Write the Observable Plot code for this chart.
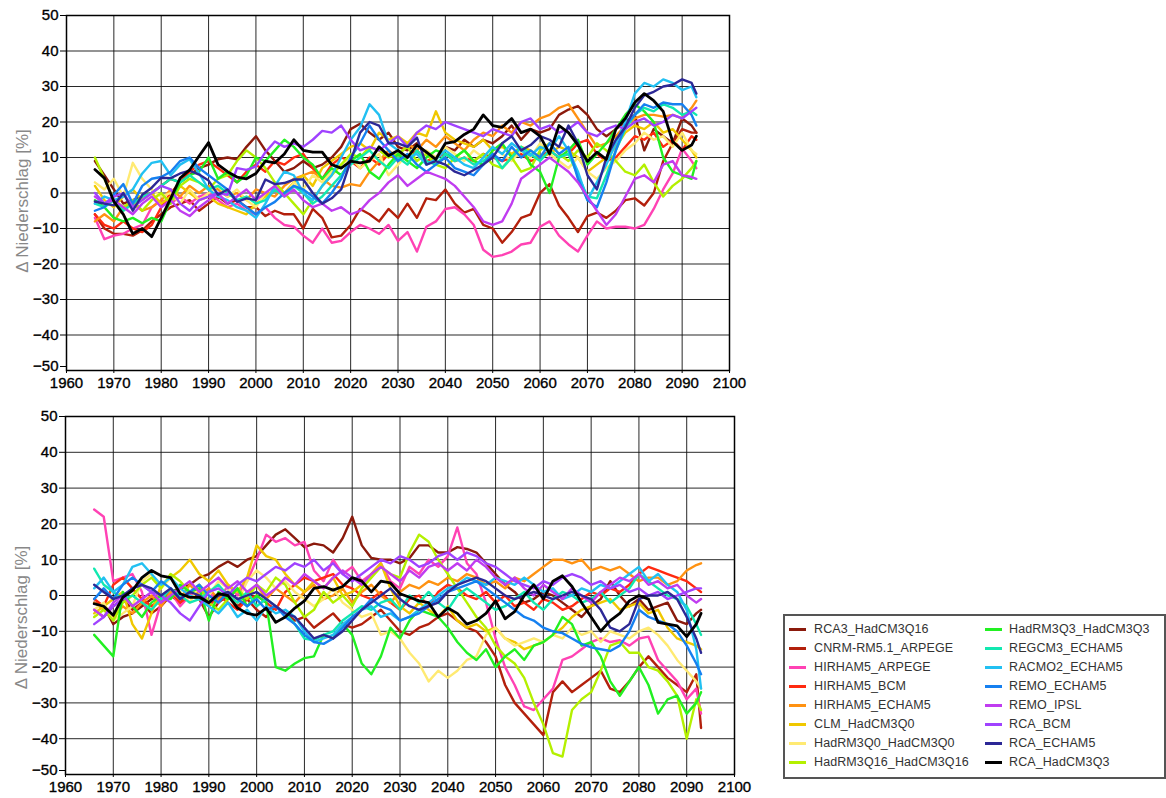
<!DOCTYPE html>
<html>
<head>
<meta charset="utf-8">
<script src="https://cdn.jsdelivr.net/npm/d3@7"></script>
<script src="https://cdn.jsdelivr.net/npm/@observablehq/plot@0.6"></script>
<style>
  html, body { margin: 0; padding: 0; background: #fff; }
  #page { position: relative; width: 1166px; height: 798px; overflow: hidden; background: #fff; font-family: 'Liberation Sans', Arial, sans-serif; }
  .panel { position: absolute; left: 0; }
  g[aria-label$="tick label"] text { stroke: #000; stroke-width: 0.35px; }
  #legend { position: absolute; left: 783px; top: 614px; width: 383px; height: 165px; box-sizing: border-box; border: 2px solid #555; background: #fff; }
  .lg-line { position: absolute; width: 17px; height: 2.5px; }
  .lg-text { position: absolute; font-size: 12.5px; color: #333; line-height: 14px; white-space: nowrap; letter-spacing: 0.1px; }
</style>
</head>
<body>
<div id="page">
  <div id="top" class="panel" style="top:0px"></div>
  <div id="bottom" class="panel" style="top:400px"></div>
  <div id="legend"></div>
</div>
<script>
// ---------- categories ----------
const models = ["RCA3_HadCM3Q16","CNRM-RM5.1_ARPEGE","HIRHAM5_ARPEGE","HIRHAM5_BCM","HIRHAM5_ECHAM5","CLM_HadCM3Q0","HadRM3Q0_HadCM3Q0","HadRM3Q16_HadCM3Q16","HadRM3Q3_HadCM3Q3","REGCM3_ECHAM5","RACMO2_ECHAM5","REMO_ECHAM5","REMO_IPSL","RCA_BCM","RCA_ECHAM5","RCA_HadCM3Q3"];
const colors = ["#8b1a0c","#b3200c","#ff42b4","#ff2a10","#ff9212","#f0c800","#ffea72","#b4f000","#22f022","#12e8b0","#22c0f2","#1680f0","#c03cf0","#a042ff","#2c2896","#000000"];
const years = [...d3.range(1966, 2093, 2), 2093];
const yearTicks = [1960,1970,1980,1990,2000,2010,2020,2030,2040,2050,2060,2070,2080,2090,2100];
const valueTicks = [-50,-40,-30,-20,-10,0,10,20,30,40,50];
const yLabel = "Δ Niederschlag [%]";

// ---------- top panel series (1966,1968,...,2092,2093) ----------
const top_RCA3_HadCM3Q16 = [9,5,1,-3,-2,-1,0,2,4,3, 5,7,8,9.5,10,9.5,13,16,12,9, 6,7,9,7,8,10,13,18,19.5,17, 15,17,13,12,14,11,10,13,12,15, 13,15,14,16,19,15,18,17,18,22, 23.5,24.5,22,18,16,18,20,22,12,18, 16,14,21,19,17];
const top_CNRM_ARPEGE = [-6,-10,-11.5,-11.5,-12,-10.5,-8,-6,-4,-3, -2,-5,-3,-1,-3,-2,-4,-4,-6.5,-5, -6,-6,-10,-4.5,-7,-12.5,-12,-9,-4.5,-6, -8,-4.5,-7,-3,-7,-1.5,-2,1,-3,-5.5, -4.5,-9,-10,-14,-11,-7,-6,0,2.5,-3.5, -7,-11,-6.5,-5.5,-7,-5,-2,-1.5,-3.5,0, 9,14,18,17,17];
const top_HIRHAM5_ARPEGE = [-7,-13,-12,-11.5,-10,-9,-4,-2,-3,-1, -3,-1,0,-2,-4,-3,-5,-6,-4,-7, -9,-9.5,-12,-14,-10,-14,-13.5,-11,-9,-10, -11.5,-9,-13.5,-11,-16.5,-9.5,-8,-4.5,-4,-6, -9,-16,-18,-17.5,-16.5,-14.5,-14,-9.5,-8,-12, -14.5,-16.5,-12,-8,-10,-9.5,-9.5,-10,-9,-4.5, 1,5.5,12.5,9,7];
const top_HIRHAM5_BCM = [-6,-9,-10,-8,-10,-11,-9,-4,0,3, 6,8,9,7,5,3,6,8,6,9, 8,10,11,7,4,8,10,9,7,10, 8,11,9,10,12,9,10,11,9,10, 9,11,10,9,10,11,9,10,12,10, 11,14,15,11,9,10,13,16,15,17, 13,15,12,16,15];
const top_HIRHAM5_ECHAM5 = [-8,-6,-8,-4,-3,-5,-4,-2,1,-1, 2,0,2,1,-1,0,-2,1,0,-1, 2,4,5,6,4,2,1.5,2.5,2,6, 9,12,10,14,12,15,13,16,14,12, 15,17,16,19,17,20,19,21,22,24, 25,21,17,13,14,16,19,21,22,22, 21.5,22,21,24,26];
const top_CLM_HadCM3Q0 = [2,-2,-4,-1,1,-2,0,-3,-1,2, 0,-2,-1,-3,-4,-5,-6,-3,-1,1, 0,3,5,2,7,9,11,13,14,12, 17,15,16,14,17,16,23,17,15,14, 13,15,12,13,11,13,12,10,11,13, 12,10,6,8,10,13,17,19,18,20, 17,18,15,12,10];
const top_HadRM3Q0 = [3,1,4,-1,8.5,4,1,-1,0,-3, 1,-2,0,2,-1,1,-2,-4,0,2, -1,3,1,5,3,6,8,10,7,9, 11,5,8,11,9,12,10,13,11,9, 12,10,13,11,9,12,10,14,11,9, 7,10,6,4,7,9,12,14,17,15, 16,13,17,12,11];
const top_HadRM3Q16 = [10,4,-2,-4,-2,-5,-2,0,-3,2, 4,3,1,4,5,9,12,10,7,3, 0,-3,-6,-2,2,5,8,11,10,13, 12,10,11,13,9,11,8,7,10,12, 9,11,8,7,10,6,7,12,14,11, 9,12,10,14,12,9,6,5,8,3, -1,2,4,7,9];
const top_HadRM3Q3 = [-2,-4,-7,-8,-7,-8.5,-7,-8,-2,3, 5,6,10,4,6,3,5,10,9,12, 15,13,10,8,4,7,5,9,11,6, 4,8,11,9,7,10,12,11,10,12, 9,8,12,14,10,13,8,6,0,10, 12,15,8,11,14,18,22,25,23,20, 10,6,5,4,9];
const top_REGCM3_ECHAM5 = [-3,-4,-2,-5,-3,-1,0,2,4,3, 5,3,1,2,0,-2,-1,-3,-2,1, -1,2,0,-3,-1,2,5,8,10,12, 9,7,10,8,12,9,8,11,9,10, 8,9,11,7,10,13,11,9,12,10, 11,5,-1,-1.5,5,12,18,22,24,23, 25,24,22,23,22];
const top_RACMO2_ECHAM5 = [-3,-1,-2,-1,1,5.5,8.5,9,5,8, 9.5,5.5,1,-1,-2,-4,-5,-7,-3,2, 6,5,0,-2,2,5,10,15,18.5,25, 22,14,12,10,11,8,9.5,12,10,8, 7,10,13,11,14,12,10.5,13,12,16, 12,6,-2,3,8,14,20,28,31,30, 32,31,29,30,27];
const top_REMO_ECHAM5 = [-5,-4,-0.5,2.5,-3,2,4,4.5,6,9, 10,7,5,3,1,-2,-4,-6,-4,-2.5, 0,2,1,-1,-3,0,4,10,14,19, 15,12,9,11,8,6,8,10,7,6, 5,8,11,9,13,10,12,10,14,11, 13,4,-2,-4,3,12,19,22,25,24, 25.5,25,25,22,19];
const top_REMO_IPSL = [-1,-3,-2,-4,-6,-3,-1,-4,-2,-5, -6.5,-4,-2,0,-3,-1,1,-2,0,2, -1,1,-2,-4,-3,-5,-4,-6,-5,-2, 0,3,5,2,4,6,5,4,2,-1, -4,-8,-9,-8,-3,4,6,8,10,8, 6,3,-1,-5,-9,-6,-1,4,5,3, 8,9,5,4.5,4];
const top_RCA_BCM = [0,-3,-1,0,-4,-2,0,2,1,-3, -5,-2,-1,0,-0.5,7,6.5,7.5,11.5,14.5, 13,14,13,15,17.5,17,19,15,12,13, 12,14,16,13,17,19,18,20,19,18, 17,16,18,17,16,20,21,18,19,17, 18,20,17,16,18,19,18,20,21,19, 20,22,21,23,24];
const top_RCA_ECHAM5 = [-2.4,-3,-3.5,0,-5,-0.5,1.5,4.3,4.2,5.5, 6.3,5.2,3.5,-0.5,1,-2.5,-1.5,-2,3.8,2.5, 2.8,3.8,3.8,0,-3,-1.5,1,9,17,20, 19,14,14,13,15.6,8,9,8,6,5, 6.5,8,10,14,16,12,13.5,16,15,13, 19,14,5,1,10,15,18.5,24,27.5,28.5, 30,30.5,32,31,28];
const top_RCA_HadCM3Q3 = [6.6,4.2,-2.4,-6,-11.5,-10,-12.3,-7,-1.5,4.2, 6.5,10.4,14.2,8,6,4.5,4,5.5,9,8.5, 11,15,12,11.5,11.5,8,7,9,8.5,9, 13,10.5,12,10,13.5,11.5,9.5,14,14.5,16.5, 18,22,19,18.5,21,17,18,16,11,19, 17,13.5,8.9,11.5,9.5,18,21,25.5,28,26, 23,14.5,12,13.5,16];

// ---------- bottom panel series ----------
const bot_RCA3_HadCM3Q16 = [-2,-3,-8,-6,-5,-3,-1,0,1,2, 3,5,6,8,9.5,8,10,11,14,17, 18.5,16,13.5,14.5,14,12,16,22,14,10.5, 10,10,9,10.5,14,14,12,12,13.5,13, 12,9,6,3,1,-2,-1,1,0,-2, -4,-6,-3,-1,4,0,-3,-1,-4,-3, -2,-7,-8,-5,-4];
const bot_CNRM_ARPEGE = [-4,-6,-3,-1,-4,-2,-5,-3,0,-2, 1,-1,-6,-2,0,-3,-1,-4,-6,-3, -5,-7,-6,-9,-7,-5,-8,-9,-8,-6, -4,-7,-10,-11,-9,-8,-6,-5,-7,-9, -10,-13,-17,-25,-30,-33,-36,-39,-27,-24, -27,-25,-23,-21,-26,-27,-24,-20,-17,-20, -23,-25,-27,-22,-37];
const bot_HIRHAM5_ARPEGE = [24,22,4,5,6,1,-11,-2,1,-3, 0,2,1,-2,3,0,4,10,17,15, 16,14,15,7,4,10,6,8,4,6, 9,4,2,8,6,10,8,11,19,9, 6,-2,-12,-20,-25,-31,-32,-29,-26,-18, -17,-15,-13,-12,-13,-12.5,-14,-12,-11.5,-18, -21,-24,-29,-26,-33];
const bot_HIRHAM5_BCM = [-1,-3,3,5,2,-1,-3,-1,1,-2, 0,-1,-3,0,-2,-4,-1,0,-2,-4, 1,3,5,4,5,6,3,2,0,-1, 1,-2,-4,-1,0,-3,1,3,2,0, -1,1,-2,0,-3,-2,-4,-1,-2,-4, -3,-1,1,0,2,1,3,6,8,7, 6,5,4,2,1];
const bot_HIRHAM5_ECHAM5 = [-2,-4,-6,-3,-5,-2,0,-3,1,-1, 3,0,2,-1,1,-2,0,3,-1,2, 0,-2,1,3,-1,0,2,-2,1,3, 0,-2,1,3,2,4,3,5,4,6, 5,3,4,2,5,4,6,8,10,10, 9,10,7,8,7,8,6,4,5,5, 3,4,7,8.5,9];
const bot_CLM_HadCM3Q0 = [-5,-3,-1,1,-8,-12,-5,3,5,7, 10,6,4,7,3,1,5,14,11,10, 6,3,1,4,2,5,0,1,3,6, 9,2,-3,-5,-2,-4,-6,-3,-7,-9, -8,-10,-9,-12,-13,-15,-14,-13,-11,-9, -6,-4,-3,-2,-1,-4,-3,-2,-5,-4, -9,-12,-13,-14,-15];
const bot_HadRM3Q0 = [-4,-2,-7,-5,-3,4,6,2,5,1, -2,3,0,4,2,-2,4,7,5,2, 4,1,-1,-3,-1,2,-2,-4,-6,-5, -11,-10,-12,-16,-19,-24,-21,-23,-21,-18, -17,-11,-9,-12,-14,-13,-12,-13,-11,-12, -9,-11,-10,-13,-10,-11,-12,-10,-9,-11, -14,-18,-21,-24,-26];
const bot_HadRM3Q16 = [-6,-4,-7,-2,0,3,5,2,6,4, 1,3,-2,-4,-1,2,-1,3,1,5, 3,-2,-6,-4,1,-2,0,-3,2,5, 8,6,5,12,17,15,10,6,2,-2, -6,-9,-14,-17,-19,-23,-30,-36,-44,-45, -32,-29,-27,-21,-14,-13,-16,-16,-20,-21, -24,-28,-40,-29,-32];
const bot_HadRM3Q3 = [-11,-14,-17,1,-3,-6,-2,0,-1,3, 1,2,-7,1,-1,2,-3,0,-2,-20, -21,-19,-17.5,-17,-11,-12,-8,-11,-19,-22, -17,-9,-12,-7,-4,-5,-6,-9,-13,-16, -18,-15,-20,-17,-15,-18,-14,-13,-11,-6, -8,-14,-13,-17,-24,-28,-24,-20,-25,-33, -29,-28,-33,-30,-27];
const bot_REGCM3_ECHAM5 = [7.5,3,1,-1,0,-2,-4,-1,2,0, -2,-1,1,3,0,-2,1,-3,-1,-3, -5,-8,-12,-12.5,-11,-10,-7,-5,-3,-4, -2,-1,-4,0,-2,1,-2,-4,0,2, 0,-2,-4,-3,-1,1,-2,-4,-1,1, 0,-2,-1,1,-2,0,2,6,4,2, 0,-1,-3,-8,-11];
const bot_RACMO2_ECHAM5 = [2,5,1,3,8,9,6,3,5,2, 0,-1,-3,-5,-2,-6,-4,-7,-3,-5, -4,-6,-10,-13,-12,-11,-8,-6,-4,-3, -6,-5,-7,-6,-4,-2,0,2,3,5, 4,3,5,4,3,5,3,1,2,-1, 0,2,1,3,2,4,6,8,4,6, 3,1,-4,-15,-26];
const bot_REMO_ECHAM5 = [-1,2,-1,3,5,3,1,4,2,-1, 1,3,0,-2,1,-1,-3,-1,-4,-3, -6,-8,-11,-13,-13.5,-12,-9,-6,-4,-1, -3,-4,-7,-6,-5,-3,-1,1,2,3, 4,2,0,-2,-4,-6,-7,-9,-10,-10.5, -12,-13.5,-14.5,-15,-15.5,-14,-10,-4,-6,-7, -8,-10,-14,-19,-22];
const bot_REMO_IPSL = [-4,-6,-2,0,-3,-1,1,-2,0,2, 4,1,3,5,2,4,1,3,0,2, 5,3,6,4,2,5,7,5,3,6, 8,6,4,7,5,8,9,7,9,7, 10,8,5,3,5,2,0,3,1,-1, 2,0,-2,1,3,5,4,6,3,4, 2,3,0,-2,-1];
const bot_RCA_BCM = [-8,-6,-3,-1,2,3,1,0,-2,-5, -7,-3,1,2,0,3,5,4,6,8, 7,9,8,10,7,9,6,4,6,8, 10,9,11,10,8,9,11,12,10,12, 11,9,8,6,4,3,2,4,3,5, 6,5,3,4,2,3,1,2,0,1, -1,0,1,2,2];
const bot_RCA_ECHAM5 = [3,1,-1,0,2,3,2,0,2,-1, 1,0,-2,0,1,-1,0,1,-1,-3, -5,-6,-9,-12,-11,-12,-10,-7,-4,-2, 0,2,-1,-3,-4,-3,-2,1,3,4, 5,4,2,0,-1,0,1,0,-1,0, 1,0,-1,-4,-9,-10,-8,-1,0,0, 1,-1,-6,-12,-16];
const bot_RCA_HadCM3Q3 = [-2.3,-3,-5.5,-0.5,1.4,5,7,5.5,5,0.5, -0.5,-0.5,-2,0.5,0,-3.5,-5,-5.5,-3.5,-7.5, -6,-3.5,-1.5,2,2.5,1.5,2.5,5,4,1, 4,3.5,0.5,-0.5,-1.5,-2,-6,-3.5,-5,-8, -7,-5,-1.5,-6.5,-4.5,0,3,-1,4,5.5, 2.5,-2,-6,-10,-7,-5,-1.5,0,-1,-7.5, -8,-8.5,-11.5,-8,-5];

const topSeries = [top_RCA3_HadCM3Q16, top_CNRM_ARPEGE, top_HIRHAM5_ARPEGE, top_HIRHAM5_BCM, top_HIRHAM5_ECHAM5, top_CLM_HadCM3Q0, top_HadRM3Q0, top_HadRM3Q16, top_HadRM3Q3, top_REGCM3_ECHAM5, top_RACMO2_ECHAM5, top_REMO_ECHAM5, top_REMO_IPSL, top_RCA_BCM, top_RCA_ECHAM5, top_RCA_HadCM3Q3];
const botSeries = [bot_RCA3_HadCM3Q16, bot_CNRM_ARPEGE, bot_HIRHAM5_ARPEGE, bot_HIRHAM5_BCM, bot_HIRHAM5_ECHAM5, bot_CLM_HadCM3Q0, bot_HadRM3Q0, bot_HadRM3Q16, bot_HadRM3Q3, bot_REGCM3_ECHAM5, bot_RACMO2_ECHAM5, bot_REMO_ECHAM5, bot_REMO_IPSL, bot_RCA_BCM, bot_RCA_ECHAM5, bot_RCA_HadCM3Q3];

function tidy(list) {
  return list.flatMap((arr, i) => arr.map((v, j) => ({model: models[i], order: i, year: years[j], value: v})));
}

const fmtY = d => d < 0 ? "\u2212" + Math.abs(d) : String(d);

function panel(data, opts) {
  const others = data.filter(d => d.model !== "RCA_HadCM3Q3");
  const black = data.filter(d => d.model === "RCA_HadCM3Q3");
  return Plot.plot({
    width: 760,
    height: opts.height,
    marginLeft: opts.ml, marginRight: opts.mr, marginTop: opts.mt, marginBottom: opts.mb,
    style: {fontSize: "15px", fontFamily: "'Liberation Sans', Arial, sans-serif", background: "transparent", color: "#000", overflow: "visible"},
    x: {domain: [1960, 2100]},
    y: {domain: [-50, 50]},
    color: {domain: models, range: colors},
    marks: [
      Plot.gridX(yearTicks, {stroke: "#111", strokeOpacity: 0.9, strokeWidth: 1}),
      Plot.gridY(valueTicks, {stroke: "#111", strokeOpacity: 0.9, strokeWidth: 1}),
      Plot.line(others, {x: "year", y: "value", z: "model", stroke: "model", strokeWidth: 2.4, strokeLinejoin: "round"}),
      Plot.line(black, {x: "year", y: "value", z: "model", stroke: "model", strokeWidth: 2.8, strokeLinejoin: "round"}),
      Plot.frame({stroke: "#000", strokeWidth: 1.5}),
      Plot.axisX({ticks: yearTicks, tickFormat: d => String(d), tickSize: 3, tickPadding: 4, label: null}),
      Plot.axisY(valueTicks.filter(d => d > -50), {tickFormat: fmtY, tickSize: 6, tickPadding: 2, label: null}),
      Plot.axisY([-50], {tickFormat: fmtY, tickSize: 6, tickPadding: 2, label: null, dy: -4}),
      Plot.text([yLabel], {frameAnchor: "left", textAnchor: "middle", dx: -44, dy: opts.labelDy, rotate: -90, text: d => d, fill: "#888", fontSize: 17, fontFamily: "'Liberation Sans', Arial, sans-serif"})
    ]
  });
}

document.getElementById("top").appendChild(panel(tidy(topSeries), {height: 400, ml: 66, mr: 31, mt: 15, mb: 30, labelDy: 8}));
document.getElementById("bottom").appendChild(panel(tidy(botSeries), {height: 398, ml: 65, mr: 26, mt: 16, mb: 24, labelDy: 22}));

// ---------- legend ----------
const legend = document.getElementById("legend");
models.forEach((m, i) => {
  const col = i < 8 ? 0 : 1;
  const row = i % 8;
  const cy = 13 + row * 19;
  const lx = col === 0 ? 4 : 200;
  const tx = col === 0 ? 29 : 224;
  const line = document.createElement("div");
  line.className = "lg-line";
  line.style.left = lx + "px";
  line.style.top = (cy - 1) + "px";
  line.style.background = colors[i];
  legend.appendChild(line);
  const t = document.createElement("div");
  t.className = "lg-text";
  t.style.left = tx + "px";
  t.style.top = (cy - 7) + "px";
  t.textContent = m;
  legend.appendChild(t);
});
</script>
</body>
</html>
